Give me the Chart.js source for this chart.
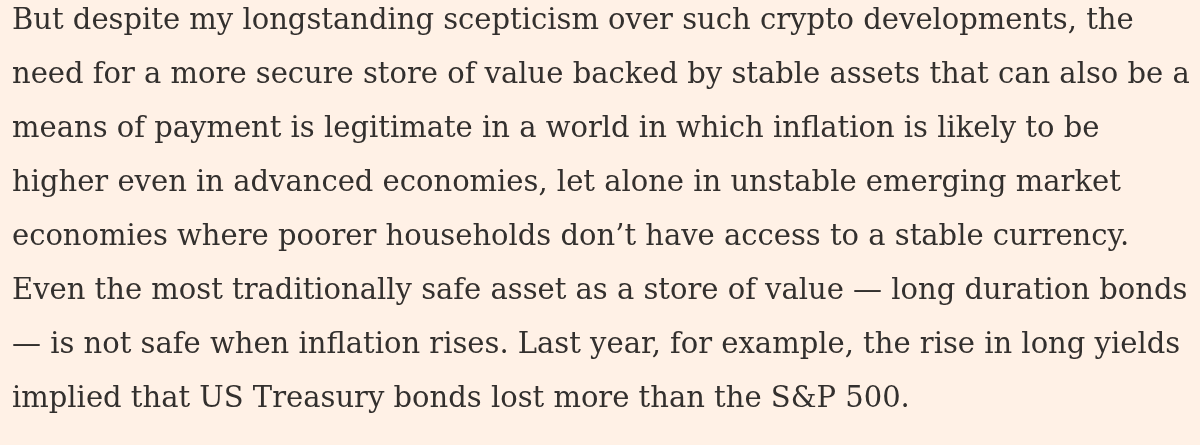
<!DOCTYPE html>
<html lang="en">
<head>
    <meta charset="utf-8">
    <title>Store of value</title>
    <script src="https://cdn.jsdelivr.net/npm/chart.js@4.4.0/dist/chart.umd.js"></script>
    <style>
        html, body { margin: 0; padding: 0; background: #fff1e6; overflow: hidden; }
        #wrap { position: absolute; left: 0; top: -6px; width: 1200px; height: 470px; }
    </style>
</head>
<body>
    <div id="wrap"><canvas id="textChart"></canvas></div>
    <script>
        // Paragraph lines, as broken in the reference
        const lines = [
            'But despite my longstanding scepticism over such crypto developments, the',
            'need for a more secure store of value backed by stable assets that can also be a',
            'means of payment is legitimate in a world in which inflation is likely to be',
            'higher even in advanced economies, let alone in unstable emerging market',
            'economies where poorer households don\u2019t have access to a stable currency.',
            'Even the most traditionally safe asset as a store of value \u2014 long duration bonds',
            '\u2014 is not safe when inflation rises. Last year, for example, the rise in long yields',
            'implied that US Treasury bonds lost more than the S&P 500.'
        ];

        const ctx = document.getElementById('textChart').getContext('2d');
        const chart = new Chart(ctx, {
            type: 'bar',
            data: { labels: [], datasets: [] },
            options: {
                responsive: true,
                maintainAspectRatio: false,
                animation: false,
                layout: { padding: { left: 12, top: 0, right: 0, bottom: 0 } },
                scales: { x: { display: false }, y: { display: false } },
                plugins: {
                    legend: { display: false },
                    tooltip: { enabled: false },
                    title: {
                        display: true,
                        text: lines,
                        align: 'start',
                        color: '#33302e',
                        padding: 0,
                        font: { family: 'DejaVu Serif', size: 29, weight: 'normal', lineHeight: '54px' }
                    }
                }
            }
        });
    </script>
</body>
</html>
